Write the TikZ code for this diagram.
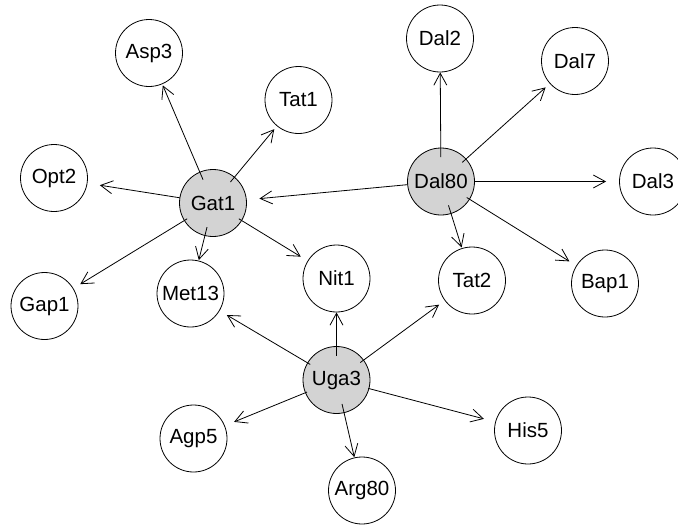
\documentclass[tikz,border=0pt]{standalone}
\usepackage{fontspec}
\setmainfont{Liberation Sans}
\usepackage{tikz}
\usetikzlibrary{arrows.meta}

\definecolor{factorgray}{RGB}{211,211,211}

\tikzset{
    gene/.style={circle, draw, line width=0.8pt, minimum size=67pt,
        inner sep=0pt, font=\fontsize{20.5}{24}\selectfont},
    factor/.style={gene, fill=factorgray},
    regulates/.style={line width=0.8pt,
        -{Straight Barb[length=12pt, width=13pt, line width=0.8pt]}}
}

\begin{document}
\begin{tikzpicture}[x=1pt, y=-1pt]


        \useasboundingbox
            (0,0) rectangle (678,525);

        \node[factor] (Gat1)  at (213,203)   {Gat1};
        \node[factor] (Dal80) at (441,181.5) {Dal80};
        \node[factor] (Uga3)  at (336.5,380) {Uga3};

        \node[gene] (Asp3)  at (149,53)      {Asp3};
        \node[gene] (Tat1)  at (298.5,100)   {Tat1};
        \node[gene] (Opt2)  at (54,178)      {Opt2};
        \node[gene] (Gap1)  at (44.5,306)    {Gap1};
        \node[gene] (Met13) at (190.5,293.5) {Met13};
        \node[gene] (Nit1)  at (336.5,278.5) {Nit1};
        \node[gene] (Dal2)  at (440,38.5)    {Dal2};
        \node[gene] (Dal7)  at (575,61)      {Dal7};
        \node[gene] (Dal3)  at (653,181.5)   {Dal3};
        \node[gene] (Tat2)  at (472,280.5)   {Tat2};
        \node[gene] (Bap1)  at (605,283.5)   {Bap1};
        \node[gene] (Agp5)  at (193.5,438.5) {Agp5};
        \node[gene] (His5)  at (528,430.5)   {His5};
        \node[gene] (Arg80) at (362,490.5)   {Arg80};

        \draw[regulates, shorten <=-8.5pt, shorten >=1.3pt]
            (Gat1) -- (Asp3);

        \draw[regulates, shorten <=-6.6pt, shorten >=4pt]
            (Gat1) -- (Tat1);

        \draw[regulates, shorten <=-0.4pt, shorten >=12.5pt]
            (Gat1) -- (Opt2);

        \draw[regulates, shorten <=-3.6pt, shorten >=8pt]
            (Gat1) -- (Gap1);

        \draw[regulates, shorten <=-9pt, shorten >=0.5pt]
            (Gat1) -- (Met13);

        \draw[regulates, shorten <=-3.6pt, shorten >=8pt]
            (Gat1) -- (Nit1);

        \draw[regulates, shorten <=-9.4pt]
            (Dal80) -- (Dal2);

        \draw[regulates, shorten <=-5.4pt, shorten >=5.6pt]
            (Dal80) -- (Dal7);

        \draw[regulates, shorten >=13pt]
            (Dal80) -- (Dal3);

        \draw[regulates, shorten <=-3.6pt, shorten >=8pt]
            (Dal80) -- (Bap1);

        \draw[regulates, shorten <=-8.9pt, shorten >=0.8pt]
            (Dal80) -- (Tat2);

        \draw[regulates, shorten <=-0.2pt, shorten >=12.7pt]
            (Dal80) -- (Gat1);

        \draw[regulates, shorten <=-3.4pt, shorten >=8.3pt]
            (Uga3) -- (Met13);

        \draw[regulates, shorten <=-9.4pt]
            (Uga3) -- (Nit1);

        \draw[regulates, shorten <=-4.4pt, shorten >=7pt]
            (Uga3) -- (Tat2);

        \draw[regulates, shorten <=-2pt, shorten >=10pt]
            (Uga3) -- (Agp5);

        \draw[regulates, shorten <=-1pt, shorten >=11.7pt]
            (Uga3) -- (His5);

        \draw[regulates, shorten <=-9.3pt, shorten >=0.3pt]
            (Uga3) -- (Arg80);


\end{tikzpicture}
\end{document}
